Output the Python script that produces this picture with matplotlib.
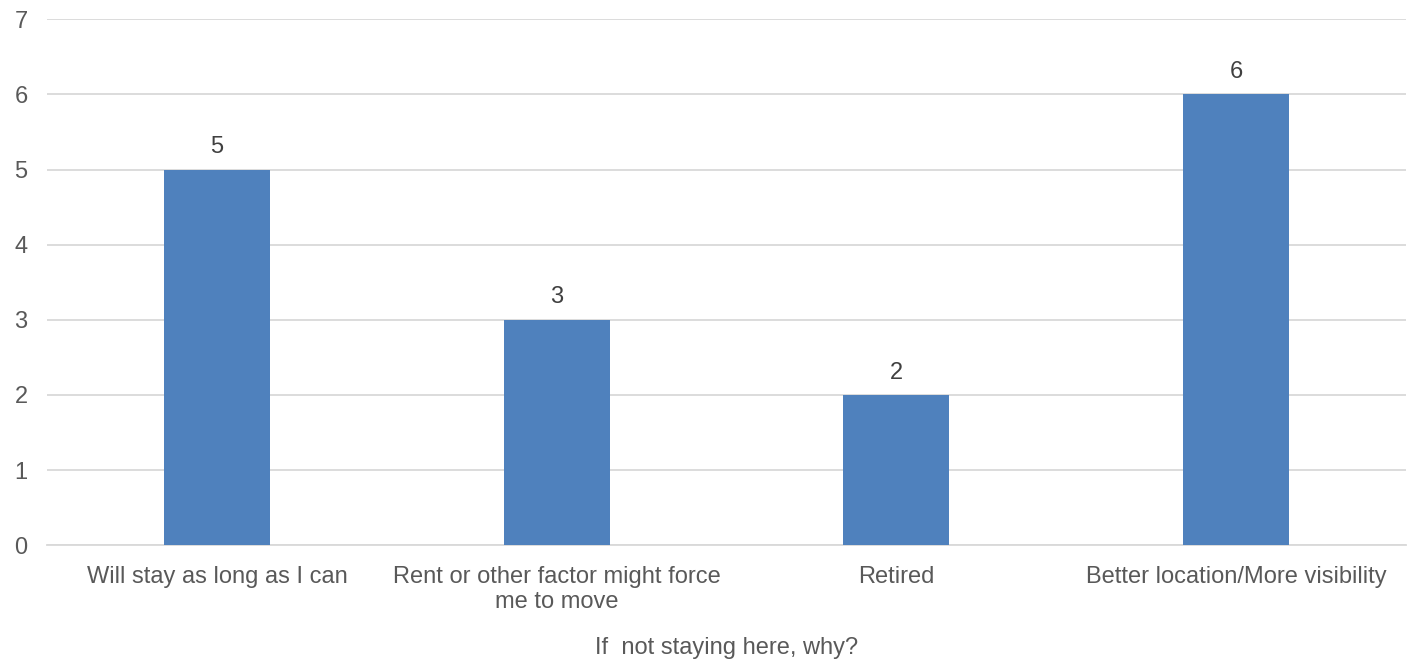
import matplotlib.pyplot as plt

categories = ["Will stay as long as I can",
              "Rent or other factor might force\nme to move",
              "Retired",
              "Better location/More visibility"]
counts = [5, 3, 2, 6]
yticks = [0, 1, 2, 3, 4, 5, 6, 7]

plt.rcParams['font.family'] = ['Liberation Sans', 'DejaVu Sans']
text_color = '#595959'
bar_color = '#4F81BD'
grid_color = '#D9D9D9'
fs = 17

fig = plt.figure(figsize=(14.16, 6.64), dpi=100)
ax = fig.add_axes([0.0332, 0.179, 0.9598, 0.792])

x = list(range(len(categories)))
bars = ax.bar(x, counts, width=0.312, color=bar_color, zorder=3)
for b, v in zip(bars, counts):
    ax.text(b.get_x() + b.get_width() / 2, v + 0.15, str(v), ha='center', va='bottom',
            fontsize=fs, color='#404040')

ax.set_xlim(-0.5, len(categories) - 0.5)
ax.set_ylim(0, 7)
ax.set_yticks(yticks)
ax.set_xticks(x)
ax.set_xticklabels(categories, fontsize=fs, color=text_color, linespacing=1.2)
ax.tick_params(axis='y', labelsize=fs, labelcolor=text_color, length=0, pad=14)
ax.tick_params(axis='x', length=0, pad=15)
ax.grid(axis='y', color=grid_color, linewidth=1.3, zorder=0)
for s in ['top', 'right', 'left']:
    ax.spines[s].set_visible(False)
ax.spines['bottom'].set_color(grid_color)
ax.spines['bottom'].set_linewidth(1.3)

ax.set_xlabel("If  not staying here, why?", fontsize=fs, color=text_color, labelpad=17)

fig.savefig("out.png", dpi=100)
